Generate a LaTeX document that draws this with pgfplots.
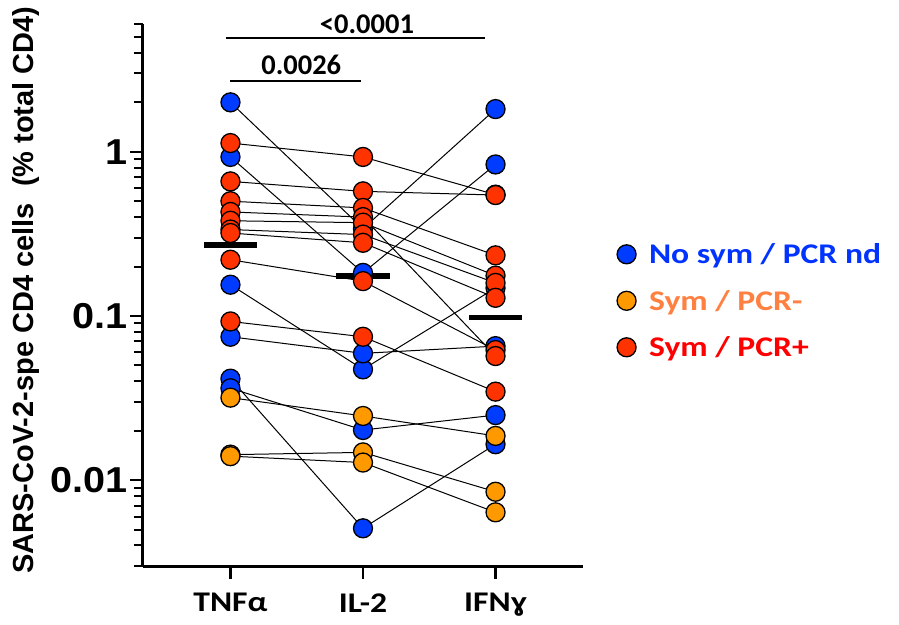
\documentclass[border=0pt]{standalone}
\usepackage{pgfplots}
\pgfplotsset{compat=1.18}
\usepackage{fontspec}
\setmainfont{Carlito}
\newfontfamily\tickfont[FakeStretch=1.1]{Liberation Sans}
\newfontfamily\labfont{Liberation Sans}
\newfontfamily\calfont[FakeStretch=1.18]{Carlito}
\newfontfamily\numfont{Carlito}
\usetikzlibrary{calc}
\definecolor{ptblue}{RGB}{0,60,255}
\definecolor{ptorange}{RGB}{255,153,0}
\definecolor{ptred}{RGB}{255,51,0}
\definecolor{txtblue}{RGB}{0,51,255}
\definecolor{txtorange}{RGB}{255,128,64}
\definecolor{txtred}{RGB}{255,0,0}
\begin{document}
\begin{tikzpicture}
\begin{axis}[
  scale only axis, width=440pt, height=542pt,
  xmin=-0.66, xmax=2.66, ymode=log, ymin=0.003, ymax=6,
  axis lines=left, axis line style={-, line width=3pt},
  xtick={0,1,2}, xticklabels={TNFα,IL-2,IFNɣ},
  ytick={0.01,0.1,1}, yticklabels={0.01,0.1,1},
  minor ytick={0.003,0.004,0.005,0.006,0.007,0.008,0.009,0.02,0.03,0.04,0.05,0.06,0.07,0.08,0.09,0.2,0.3,0.4,0.5,0.6,0.7,0.8,0.9,2,3,4,5,6},
  tick align=outside, major tick length=13pt, minor tick length=9pt,
  major tick style={black, line width=2.5pt},
  minor tick style={black, line width=2pt},
  xticklabel style={font=\calfont\bfseries\fontsize{28.5}{30}\selectfont, yshift=-11pt},
  yticklabel style={font=\tickfont\bfseries\fontsize{36}{40}\selectfont, inner xsep=2pt},
  ylabel={SARS-CoV-2-spe CD4 cells\ \ (\% total CD4)},
  ylabel style={font=\labfont\bfseries\fontsize{29}{32}\selectfont, at={(axis description cs:-0.266,0.509)}, anchor=center},
  clip=false,
  legend style={at={(axis description cs:1.077,0.599)}, anchor=north west, draw=none, fill=none,
    font=\calfont\bfseries\fontsize{28.5}{30}\selectfont, row sep=21pt, column sep=11pt, inner sep=0pt},
  legend cell align=left,
]
\coordinate (O) at (rel axis cs:0,0);
% subject lines (TNFa, IL-2, IFNg)
\addplot[black, line width=1pt, forget plot] coordinates {(0,2.0)(1,0.34)(2,1.82)};
\addplot[black, line width=1pt, forget plot] coordinates {(0,0.93)(1,0.183)(2,0.837)};
\addplot[black, line width=1pt, forget plot] coordinates {(0,0.155)(1,0.0473)(2,0.148)};
\addplot[black, line width=1pt, forget plot] coordinates {(0,0.0747)(1,0.0592)(2,0.0655)};
\addplot[black, line width=1pt, forget plot] coordinates {(0,0.0415)(1,0.00509)(2,0.01655)};
\addplot[black, line width=1pt, forget plot] coordinates {(0,0.0363)(1,0.0202)(2,0.0249)};
\addplot[black, line width=1pt, forget plot] coordinates {(0,0.0318)(1,0.0246)(2,0.0186)};
\addplot[black, line width=1pt, forget plot] coordinates {(0,0.0143)(1,0.01476)(2,0.0085)};
\addplot[black, line width=1pt, forget plot] coordinates {(0,0.0140)(1,0.0128)(2,0.00637)};
\addplot[black, line width=1pt, forget plot] coordinates {(0,1.13)(1,0.93)(2,0.548)};
\addplot[black, line width=1pt, forget plot] coordinates {(0,0.66)(1,0.574)(2,0.545)};
\addplot[black, line width=1pt, forget plot] coordinates {(0,0.50)(1,0.455)(2,0.234)};
\addplot[black, line width=1pt, forget plot] coordinates {(0,0.43)(1,0.40)(2,0.057)};
\addplot[black, line width=1pt, forget plot] coordinates {(0,0.38)(1,0.37)(2,0.176)};
\addplot[black, line width=1pt, forget plot] coordinates {(0,0.336)(1,0.313)(2,0.159)};
\addplot[black, line width=1pt, forget plot] coordinates {(0,0.32)(1,0.279)(2,0.129)};
\addplot[black, line width=1pt, forget plot] coordinates {(0,0.22)(1,0.163)(2,0.062)};
\addplot[black, line width=1pt, forget plot] coordinates {(0,0.0926)(1,0.0747)(2,0.0346)};
% points
\addplot[only marks, mark=*, mark size=9.5pt, mark options={draw=black, line width=1.3pt, fill=ptblue}]
 coordinates {(0,2.0)(0,0.93)(0,0.155)(0,0.0747)(0,0.0415)(0,0.0363)
              (1,0.34)(1,0.183)(1,0.0473)(1,0.0592)(1,0.00509)(1,0.0202)
              (2,1.82)(2,0.837)(2,0.148)(2,0.0655)(2,0.01655)(2,0.0249)};
\addlegendentry{\textcolor{txtblue}{No sym / PCR nd}}
\addplot[only marks, mark=*, mark size=9.5pt, mark options={draw=black, line width=1.3pt, fill=ptorange}]
 coordinates {(0,0.0318)(0,0.0143)(0,0.0140)
              (1,0.0246)(1,0.01476)(1,0.0128)
              (2,0.0186)(2,0.0085)(2,0.00637)};
\addlegendentry{\textcolor{txtorange}{Sym / PCR-}}
\addplot[only marks, mark=*, mark size=9.5pt, mark options={draw=black, line width=1.3pt, fill=ptred}]
 coordinates {(0,1.13)(0,0.66)(0,0.50)(0,0.43)(0,0.38)(0,0.336)(0,0.32)(0,0.22)(0,0.0926)
              (1,0.93)(1,0.574)(1,0.455)(1,0.40)(1,0.37)(1,0.313)(1,0.279)(1,0.163)(1,0.0747)
              (2,0.548)(2,0.545)(2,0.234)(2,0.176)(2,0.159)(2,0.129)(2,0.062)(2,0.057)(2,0.0346)};
\addlegendentry{\textcolor{txtred}{Sym / PCR+}}
% means
\addplot[black, line width=5.5pt, forget plot] coordinates {(-0.2,0.27)(0.2,0.27)};
\addplot[black, line width=5.5pt, forget plot] coordinates {(0.8,0.175)(1.2,0.175)};
\addplot[black, line width=5.5pt, forget plot] coordinates {(1.8,0.098)(2.2,0.098)};
% significance
\addplot[black, line width=2pt, forget plot] coordinates {(0,2.71)(0.985,2.71)};
\addplot[black, line width=2pt, forget plot] coordinates {(-0.03,4.95)(1.92,4.95)};
\node[anchor=base, font=\numfont\bfseries\fontsize{28.5}{30}\selectfont] at (axis cs:0.534,2.94) {0.0026};
\node[anchor=base, font=\numfont\bfseries\fontsize{28.5}{30}\selectfont] at (axis cs:1.03,5.27) {<0.0001};
\end{axis}
\pgfresetboundingbox
\path[use as bounding box] ($(O)+(-143pt,-58pt)$) rectangle ($(O)+(756pt,566pt)$);
\end{tikzpicture}
\end{document}
